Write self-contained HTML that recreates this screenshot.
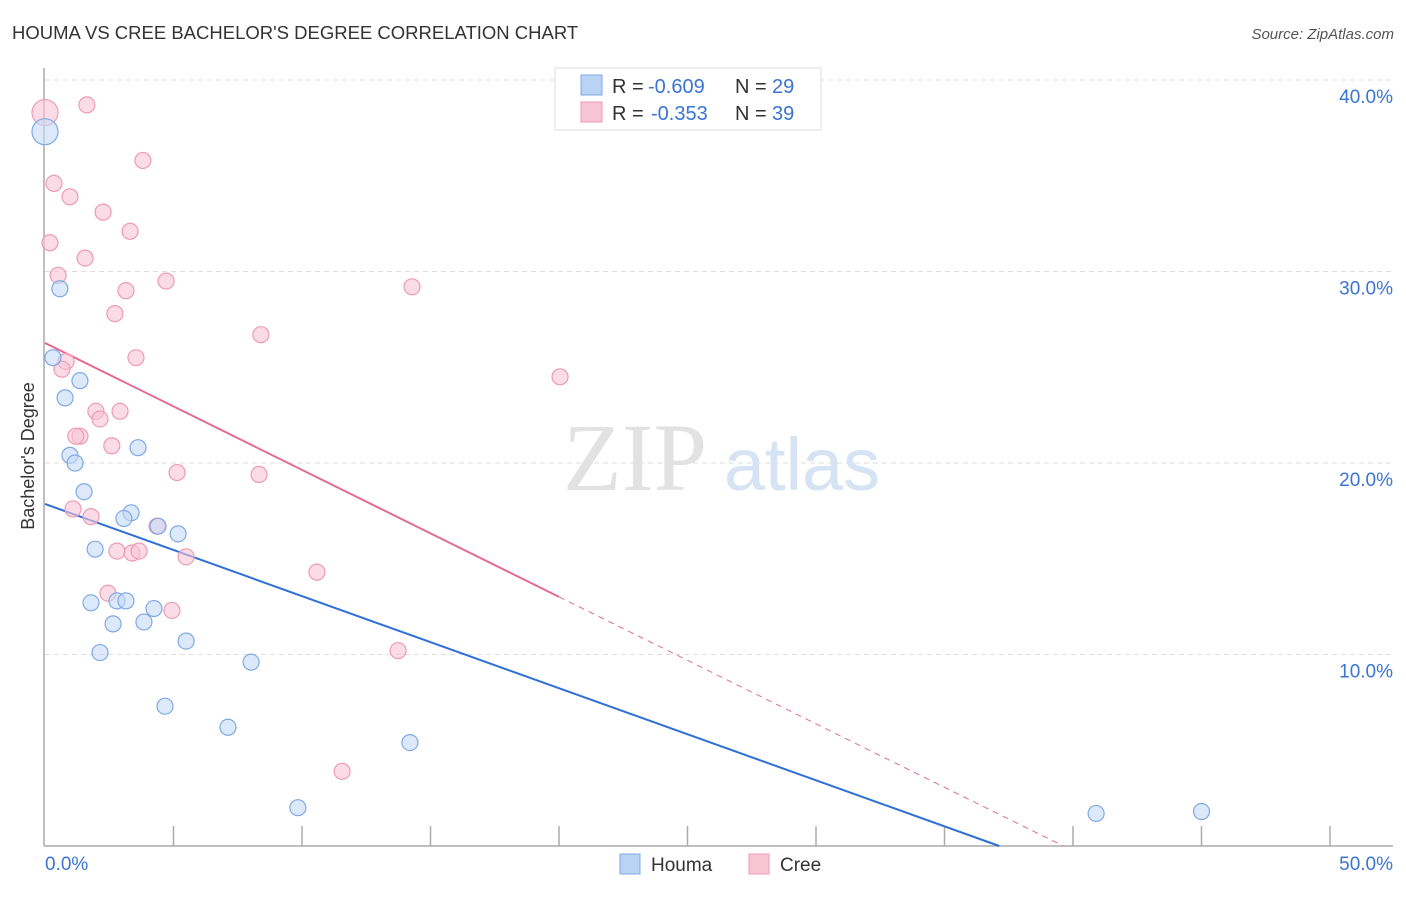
<!DOCTYPE html>
<html><head><meta charset="utf-8"><style>
body{margin:0;background:#fff;font-family:"Liberation Sans",sans-serif;}
svg text{font-family:"Liberation Sans",sans-serif;}
</style></head><body>
<svg width="1406" height="892" xmlns="http://www.w3.org/2000/svg">
<text x="12" y="39" font-size="18.5" fill="#333">HOUMA VS CREE BACHELOR'S DEGREE CORRELATION CHART</text>
<text x="1394" y="39" font-size="15" fill="#555" font-style="italic" text-anchor="end">Source: ZipAtlas.com</text>
<g id="grid"></g>
<g><text x="635" y="490" font-size="96" fill="#e2e2e2" text-anchor="middle" style="font-family:'Liberation Serif',serif">ZIP</text><text x="802" y="490" font-size="74" fill="#d6e3f3" text-anchor="middle">atlas</text></g>
<text transform="translate(34,456) rotate(-90)" font-size="18" fill="#333" text-anchor="middle">Bachelor's Degree</text>
<g id="axes"></g>
<g id="lines"></g>
<g id="points"></g>
<g>
<rect x="555" y="68" width="266" height="62" fill="#fff" stroke="#ddd"/>
<rect x="581" y="75" width="21" height="20" fill="#b9d3f5" stroke="#7fa9e4"/>
<text x="612" y="93" font-size="20" fill="#333">R =</text>
<text x="648" y="93" font-size="20" fill="#3a74d4">-0.609</text>
<text x="735" y="93" font-size="20" fill="#333">N =</text>
<text x="772" y="93" font-size="20" fill="#3a74d4">29</text>
<rect x="581" y="102" width="21" height="20" fill="#f8c5d5" stroke="#ee9ab5"/>
<text x="612" y="120" font-size="20" fill="#333">R =</text>
<text x="651" y="120" font-size="20" fill="#3a74d4">-0.353</text>
<text x="735" y="120" font-size="20" fill="#333">N =</text>
<text x="772" y="120" font-size="20" fill="#3a74d4">39</text>
</g>
<g>
<rect x="620" y="854" width="20" height="20" fill="#b9d3f5" stroke="#7fa9e4"/>
<text x="651" y="871" font-size="19" fill="#333">Houma</text>
<rect x="749" y="854" width="20" height="20" fill="#f8c5d5" stroke="#ee9ab5"/>
<text x="780" y="871" font-size="19" fill="#333">Cree</text>
</g>
</svg>
<script>
const houmaX=[0,0.58,0.31,1.36,0.78,0.97,1.17,3.62,1.52,3.35,3.07,4.4,5.18,1.95,1.79,2.8,3.15,4.24,2.65,3.85,2.14,5.49,8.02,4.67,7.12,14.2,9.84,40.9,45.0];
const houmaY=[37.3,29.1,25.5,24.3,23.4,20.4,20.0,20.8,18.5,17.4,17.1,16.7,16.3,15.5,12.7,12.8,12.8,12.4,11.6,11.7,10.1,10.7,9.6,7.3,6.2,5.4,2.0,1.7,1.8];
const creeX=[0,1.63,3.81,0.35,0.97,2.26,3.31,0.19,1.56,0.51,4.71,3.15,14.28,2.72,8.4,3.54,0.82,0.66,20.04,1.98,2.92,2.14,1.36,1.2,2.6,5.14,8.33,1.09,1.79,4.36,2.8,3.39,3.66,5.49,10.58,2.45,4.94,13.74,11.56];
const creeY=[38.3,38.7,35.8,34.6,33.9,33.1,32.1,31.5,30.7,29.8,29.5,29.0,29.2,27.8,26.7,25.5,25.3,24.9,24.5,22.7,22.7,22.3,21.4,21.4,20.9,19.5,19.4,17.6,17.2,16.7,15.4,15.3,15.4,15.1,14.3,13.2,12.3,10.2,3.9];
const houmaTrend=[17.86,-0.481];
const creeTrend=[26.27,-0.663];
const yTicks=[10,20,30,40];
const NS='http://www.w3.org/2000/svg';
const X=v=>45+v*25.7, Y=v=>846-v*19.15;
function mk(t,a,p){const e=document.createElementNS(NS,t);for(const k in a)e.setAttribute(k,a[k]);p.appendChild(e);return e;}
const grid=document.getElementById('grid'),axes=document.getElementById('axes');
yTicks.forEach(v=>{
 const l=mk('line',{x1:45,x2:1393,y1:Y(v),y2:Y(v),stroke:'#ddd','stroke-dasharray':'5,4'},grid);
 
 
 const t=mk('text',{x:1393,y:Y(v)+23,'font-size':19,fill:'#3a74d4','text-anchor':'end'},axes);t.textContent=v.toFixed(1)+'%';
 
 
});
mk('line',{x1:44,x2:44,y1:68,y2:846,stroke:'#aaa','stroke-width':1.5},axes);
mk('line',{x1:44,x2:1393,y1:846,y2:846,stroke:'#aaa','stroke-width':1.5},axes);
for(let i=1;i<=10;i++){mk('line',{x1:X(i*5),x2:X(i*5),y1:826,y2:846,stroke:'#aaa','stroke-width':1.5},axes);}
let t=mk('text',{x:45,y:870,'font-size':19,fill:'#3a74d4'},axes);t.textContent='0.0%';


t=mk('text',{x:1393,y:870,'font-size':19,fill:'#3a74d4','text-anchor':'end'},axes);t.textContent='50.0%';


const pts=document.getElementById('points');
function dots(xs,ys,fill,stroke,name){xs.forEach((x,i)=>{const r=(i===0)?13:8;const c=mk('circle',{cx:X(x),cy:Y(ys[i]),r:r,fill:fill,'fill-opacity':0.6,stroke:stroke,'stroke-width':1.2},pts);
 
 });}
dots(creeX,creeY,'#f8c5d5','#ee9ab5','cree-point');
dots(houmaX,houmaY,'#c4daf6','#7fa9e4','houma-point');
const lg=document.getElementById('lines');
function yAt(tr,x){return tr[0]+tr[1]*x;}
const hEnd=-houmaTrend[0]/houmaTrend[1];
let l=mk('line',{x1:X(0),y1:Y(yAt(houmaTrend,0)),x2:X(hEnd),y2:Y(0),stroke:'#2f6fd8','stroke-width':2},lg);


l=mk('line',{x1:X(0),y1:Y(yAt(creeTrend,0)),x2:X(20),y2:Y(yAt(creeTrend,20)),stroke:'#e56b94','stroke-width':2},lg);


const cEnd=-creeTrend[0]/creeTrend[1];
l=mk('line',{x1:X(20),y1:Y(yAt(creeTrend,20)),x2:X(cEnd),y2:Y(0),stroke:'#e56b94','stroke-width':1,'stroke-dasharray':'6,5'},lg);


</script>
</body></html>
